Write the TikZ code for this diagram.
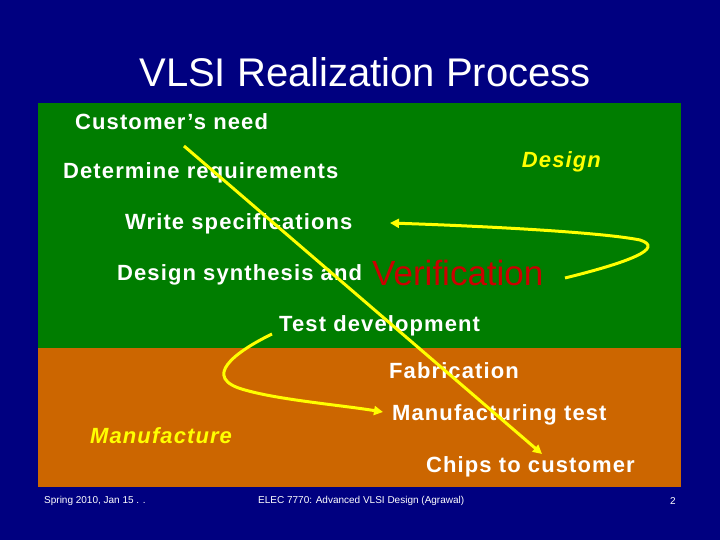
\documentclass[tikz,border=0pt]{standalone}
\usepackage{fontspec}
\setmainfont{Liberation Sans}
\usetikzlibrary{arrows.meta}
\definecolor{navy}{HTML}{000080}
\definecolor{grn}{HTML}{007D00}
\definecolor{org}{HTML}{CC6600}
\definecolor{yel}{HTML}{FFFF00}
\begin{document}
\begin{tikzpicture}[x=1pt,y=-1pt,
  lbl/.style={anchor=west,text=white,font=\fontsize{22}{24}\selectfont\bfseries\addfontfeature{LetterSpace=5},inner sep=0pt},
  ital/.style={text=yel,font=\fontsize{22}{24}\selectfont\bfseries\itshape\addfontfeature{LetterSpace=5},inner sep=0pt},
  foot/.style={text=white,font=\fontsize{10}{11}\selectfont,inner sep=0pt,anchor=west},
  arr/.style={draw=yel,line width=3pt,-{Triangle[length=9pt,width=9pt]}}]
\fill[navy] (0,0) rectangle (720,540);
\useasboundingbox (0,0) rectangle (720,540);
\fill[grn] (38,103) rectangle (681,348);
\fill[org] (38,348) rectangle (681,487);
\node[text=white,font=\fontsize{40}{44}\selectfont,inner sep=0pt] (title) at (365,72) {VLSI Realization Process};
\node[lbl] (cn) at (75,122) {Customer’s need};
\node[lbl] (dr) at (63,173) {Determine requirements};
\node[ital,anchor=east] (des) at (601,162) {Design};
\node[lbl] (ws) at (125,224) {Write specifications};
\node[lbl] (ds) at (117,275) {Design synthesis and};
\node[anchor=west,text=red!80!black,font=\fontsize{35}{38}\selectfont,inner sep=0pt] (ver) at (372,273) {Verification};
\node[lbl] (td) at (279,326) {Test development};
\node[lbl] (fab) at (389,371) {Fabrication};
\node[lbl] (mt) at (392,415) {Manufacturing test};
\node[ital,anchor=west] (man) at (90,436) {Manufacture};
\node[lbl] (cc) at (426,467) {Chips to customer};
\node[foot] (f1) at (44,501) {Spring 2010, Jan 15 . .};
\node[foot] (f2) at (258,501) {ELEC 7770: Advanced VLSI Design (Agrawal)};
\node[foot] (f3) at (670,501) {2};
\coordinate (a0) at (184,146);
\coordinate (a1) at (542,454);
\draw[arr] (a0) -- (a1);
\coordinate (b0) at (565,278);
\coordinate (b1) at (390,223);
\draw[arr] (b0) .. controls (630,262) and (665,248) .. (640,240) .. controls (600,232) and (480,226) .. (b1);
\coordinate (c0) at (272,334);
\coordinate (c1) at (383,412);
\draw[arr] (c0) .. controls (235,352) and (200,378) .. (245,390) .. controls (280,400) and (340,405) .. (c1);
\end{tikzpicture}
\end{document}
